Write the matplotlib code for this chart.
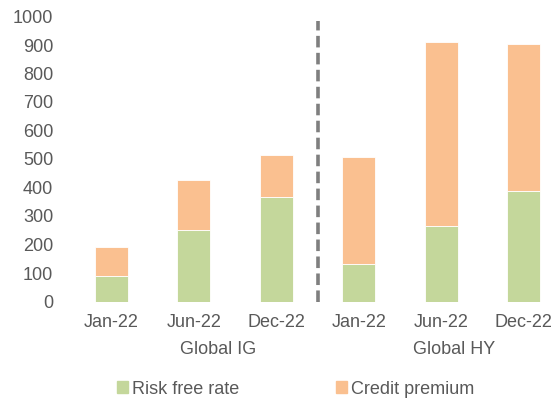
import matplotlib.pyplot as plt
from matplotlib.patches import Patch
from matplotlib.transforms import blended_transform_factory
import numpy as np

plt.rcParams['font.family'] = ['Liberation Sans', 'DejaVu Sans']

months = ['Jan-22', 'Jun-22', 'Dec-22', 'Jan-22', 'Jun-22', 'Dec-22']
groups = ['Global IG', 'Global HY']
risk_free = [90, 250, 368, 130, 266, 387]
credit_premium = [102, 176, 147, 376, 644, 515]

GREEN = '#C4D79B'
ORANGE = '#FAC090'
TEXT = '#595959'

W, H = 556, 401
fig = plt.figure(figsize=(W / 100, H / 100), dpi=100)
# axes runs past the right edge, like the cropped original
ax = fig.add_axes([70 / W, 1 - 301.5 / H, 495 / W, 285 / H])

x = np.arange(len(months))
ax.bar(x, risk_free, width=0.4, color=GREEN, edgecolor='white', linewidth=0.6)
ax.bar(x, credit_premium, width=0.4, bottom=risk_free, color=ORANGE,
       edgecolor='white', linewidth=0.6)

# divider between the two groups
ax.plot([2.5, 2.5], [0, 985], color='#7F7F7F', lw=2.6, dashes=(3.2, 1.5),
        clip_on=False)

ax.set_xlim(-0.5, 5.5)
ax.set_ylim(0, 1000)
ax.set_yticks(range(0, 1001, 100))
ax.set_xticks(x)
ax.set_xticklabels(months)
ax.tick_params(axis='y', length=0, pad=12, labelsize=13, labelcolor=TEXT)
ax.tick_params(axis='x', length=0, pad=9, labelsize=13, labelcolor=TEXT)
for s in ax.spines.values():
    s.set_visible(False)

tr = blended_transform_factory(ax.transData, fig.transFigure)
for gx, g in zip([1.30, 4.15], groups):
    ax.text(gx, 1 - 349 / H, g, transform=tr, ha='center', va='center',
            fontsize=13, color=TEXT)

handles = [Patch(color=GREEN, label='Risk free rate'),
           Patch(color=ORANGE, label='Credit premium')]
fig.legend(handles=handles, loc='center', ncol=2, frameon=False,
           bbox_to_anchor=(295.5 / W, 1 - 389 / H), fontsize=13,
           labelcolor=TEXT, handlelength=0.6, handleheight=0.6,
           handletextpad=0.2, columnspacing=5.4, borderpad=0)

fig.savefig('out.png', dpi=100)
